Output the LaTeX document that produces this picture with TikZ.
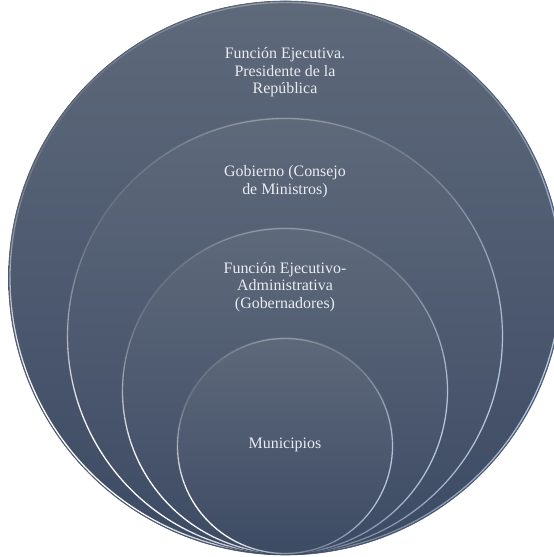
\documentclass[tikz,border=0pt]{standalone}
\usepackage{fontspec}
\setmainfont{Liberation Serif}
\usetikzlibrary{calc}
\definecolor{ringtop}{HTML}{5E697A}
\definecolor{ringbot}{HTML}{3C4A64}
\definecolor{ringedge}{HTML}{4A5870}
\definecolor{labelcol}{HTML}{E9ECF1}
\definecolor{rimblue}{HTML}{C4DAF0}
% light rim of a ring: bright on the lower left, bluish on the right, faint on top
\newcommand\ringrim[2]{% #1 centre coordinate, #2 radius
  \pgfmathsetmacro\rr{#2-1.5}
  \foreach \a in {0,3,...,357}{
    \pgfmathsetmacro\opw{min(1,0.10+1.0*max(0,cos(\a+1.5-222))^3+0.22*max(0,cos(\a+1.5-92))^8)}
    \pgfmathsetmacro\opb{min(1,0.85*max(0,cos(\a+1.5-342))^2)}
    \draw[white, opacity=\opw, line width=1.3pt]
      ($(#1)+(\a:\rr)$) arc[start angle=\a, end angle=\a+3, radius=\rr];
    \draw[rimblue, opacity=\opb, line width=1.2pt]
      ($(#1)+(\a:\rr)$) arc[start angle=\a, end angle=\a+3, radius=\rr];
  }}
\begin{document}
\begin{tikzpicture}[x=1bp,y=1bp,
  ring/.style={top color=ringtop, bottom color=ringbot},
  label/.style={text=labelcol, align=center, inner sep=0pt,
    font=\fontsize{16}{17.5}\selectfont}]
\useasboundingbox (0,0) rectangle (554,557);
\fill[white] (0,0) rectangle (554,557);

% ring centres, all rings touch at the bottom
\coordinate (c1) at (285.5,279);
\coordinate (c2) at (285,221);
\coordinate (c3) at (285,166);
\coordinate (c4) at (285,111);

\shade[ring] (c1) circle[radius=277];
\draw[ringedge, line width=0.6pt] (c1) circle[radius=277];
\ringrim{c1}{277}

\shade[ring] (c2) circle[radius=219];
\ringrim{c2}{219}

\shade[ring] (c3) circle[radius=164];
\ringrim{c3}{164}

\shade[ring] (c4) circle[radius=109];
\ringrim{c4}{109}

\node[label] (t1) at (285,484.5) {Función Ejecutiva.\\Presidente de la\\República};
\node[label] (t2) at (285,375.5) {Gobierno (Consejo\\de Ministros)};
\node[label] (t3) at (285,270) {Función Ejecutivo-\\Administrativa\\(Gobernadores)};
\node[label] (t4) at (285,112) {Municipios};
\end{tikzpicture}
\end{document}
